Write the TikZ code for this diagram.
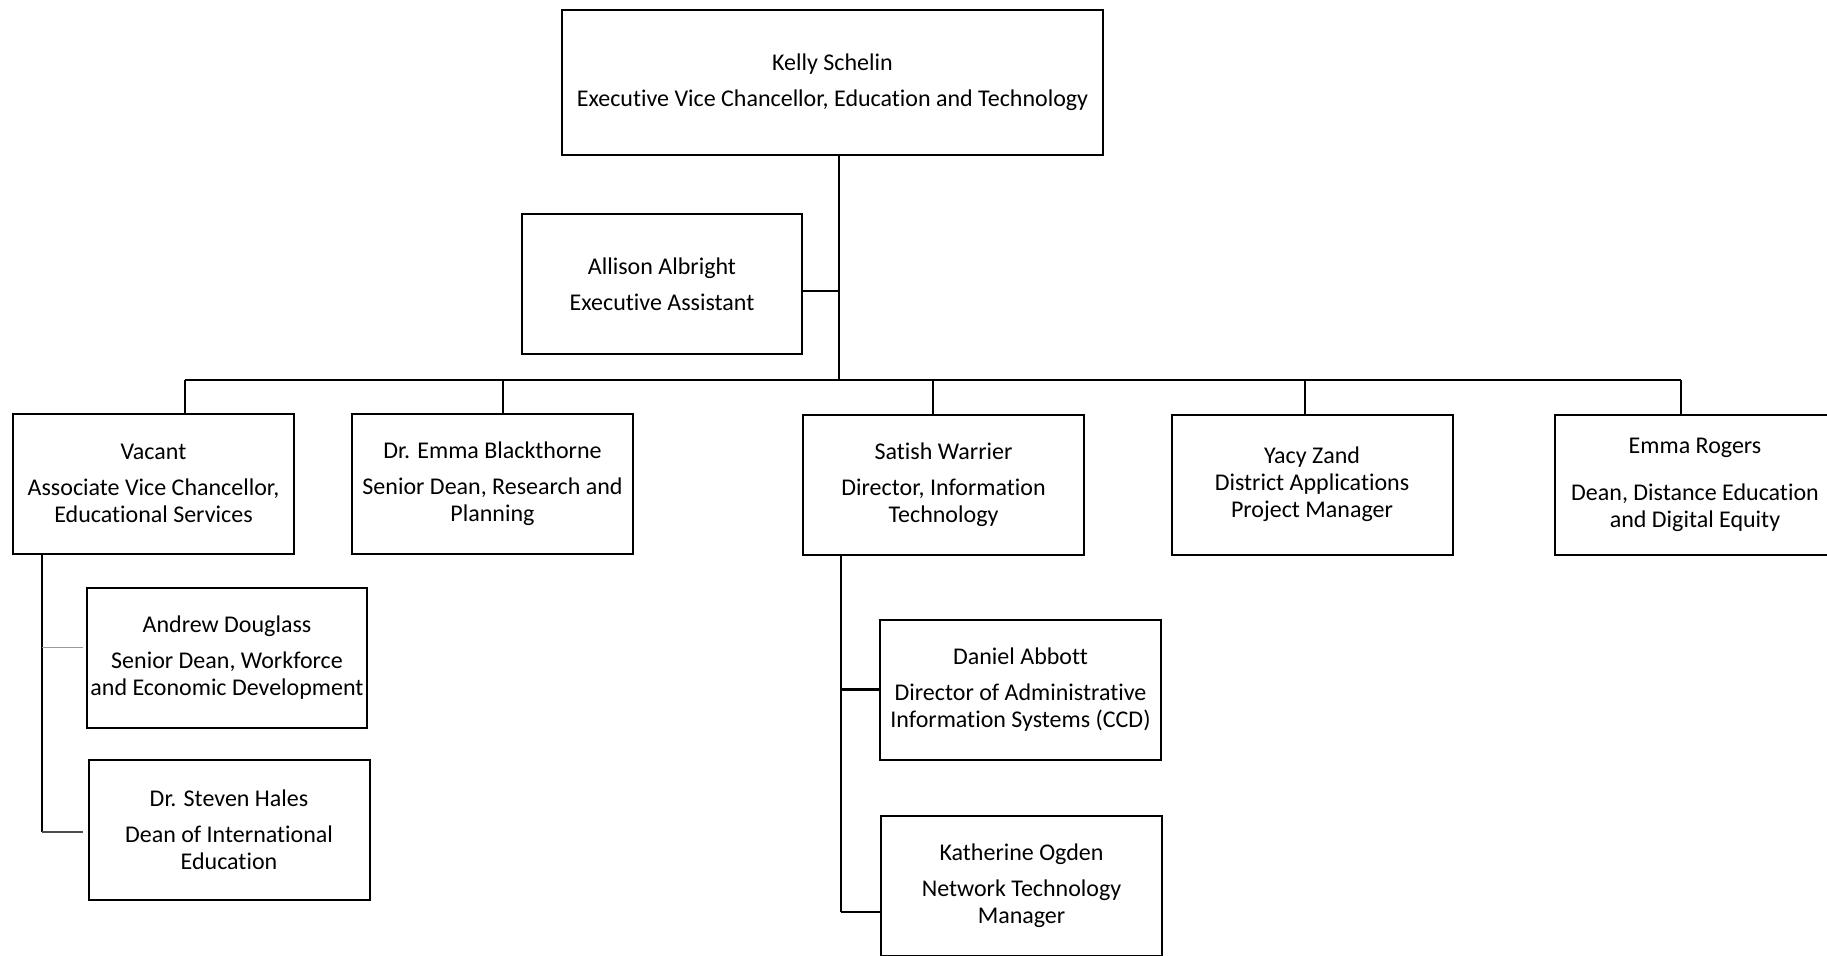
\documentclass[tikz,border=0pt]{standalone}
\usepackage{fontspec}
\setmainfont{Carlito}[Ligatures=NoCommon]
\begin{document}
\begin{tikzpicture}[x=1pt,y=-1pt,
  box/.style={draw=black, line width=2pt, inner sep=0pt, align=center,
    minimum width=281pt, minimum height=140pt,
    font=\fontsize{24}{27}\selectfont},
  link/.style={line width=2.2pt, draw=black}]
\useasboundingbox (0,0) rectangle (1827,955);
\fill[white] (0,0) rectangle (1827,955);
% boxes
\node[box, minimum width=541pt, minimum height=145pt] (top) at (832.5,82.5)
  {Kelly Schelin\\[9pt]Executive Vice Chancellor, Education and Technology};
\node[box, minimum width=280pt] (allison) at (662,284)
  {Allison Albright\\[9pt]Executive Assistant};
\node[box] (vacant) at (153.5,483.5)
  {Vacant\\[9pt]Associate Vice Chancellor,\\Educational Services};
\node[box] (bth) at (492.5,483.5)
  {Dr. Emma Blackthorne\\[9pt]Senior Dean, Research and\\Planning};
\node[box] (satish) at (943.5,485)
  {Satish Warrier\\[9pt]Director, Information\\Technology};
\node[box] (yacy) at (1312,484.5)
  {Yacy Zand\\District Applications\\Project Manager};
\node[box] (emma) at (1695,485)
  {Emma Rogers\\[20pt]Dean, Distance Education\\and Digital Equity};
\node[box, minimum width=280pt] (andrew) at (227,658)
  {Andrew Douglass\\[9pt]Senior Dean, Workforce\\and Economic Development};
\node[box] (steven) at (229,830)
  {Dr. Steven Hales\\[9pt]Dean of International\\Education};
\node[box] (daniel) at (1020.5,689.5)
  {Daniel Abbott\\[9pt]Director of Administrative\\Information Systems (CCD)};
\node[box] (kath) at (1021.5,886)
  {Katherine Ogden\\[9pt]Network Technology\\Manager};
% connectors
\coordinate (trunk) at (839,380);
\coordinate (aj) at (839,291);
\coordinate (barL) at (185,380);
\coordinate (barR) at (1681,380);
\coordinate (d2) at (503,380);
\coordinate (d3) at (933,380);
\coordinate (d4) at (1305,380);
\draw[link] (top.south -| trunk) -- (trunk);
\draw[link] (aj -| allison.east) -- (aj);
\draw[link] (barL) -- (barR);
\draw[link] (barL) -- (barL |- vacant.north);
\draw[link] (d2) -- (d2 |- bth.north);
\draw[link] (d3) -- (d3 |- satish.north);
\draw[link] (d4) -- (d4 |- yacy.north);
\draw[link] (barR) -- (barR |- emma.north);
% vacant subtree
\coordinate (vb) at (42,832);
\coordinate (va) at (42,647);
\coordinate (vaE) at (83,647);
\coordinate (vbE) at (83,832);
\draw[link] (vacant.south -| vb) -- (vb);
\draw[line width=1pt, draw=black!40] (va) -- (vaE);
\draw[line width=1.4pt, draw=black!70] (vb) -- (vbE);
% satish subtree
\coordinate (sb) at (841,912);
\draw[link] (satish.south -| sb) -- (sb);
\draw[link] (daniel.west -| sb) -- (daniel.west);
\draw[link] (sb) -- (sb -| kath.west);
\end{tikzpicture}
\end{document}
